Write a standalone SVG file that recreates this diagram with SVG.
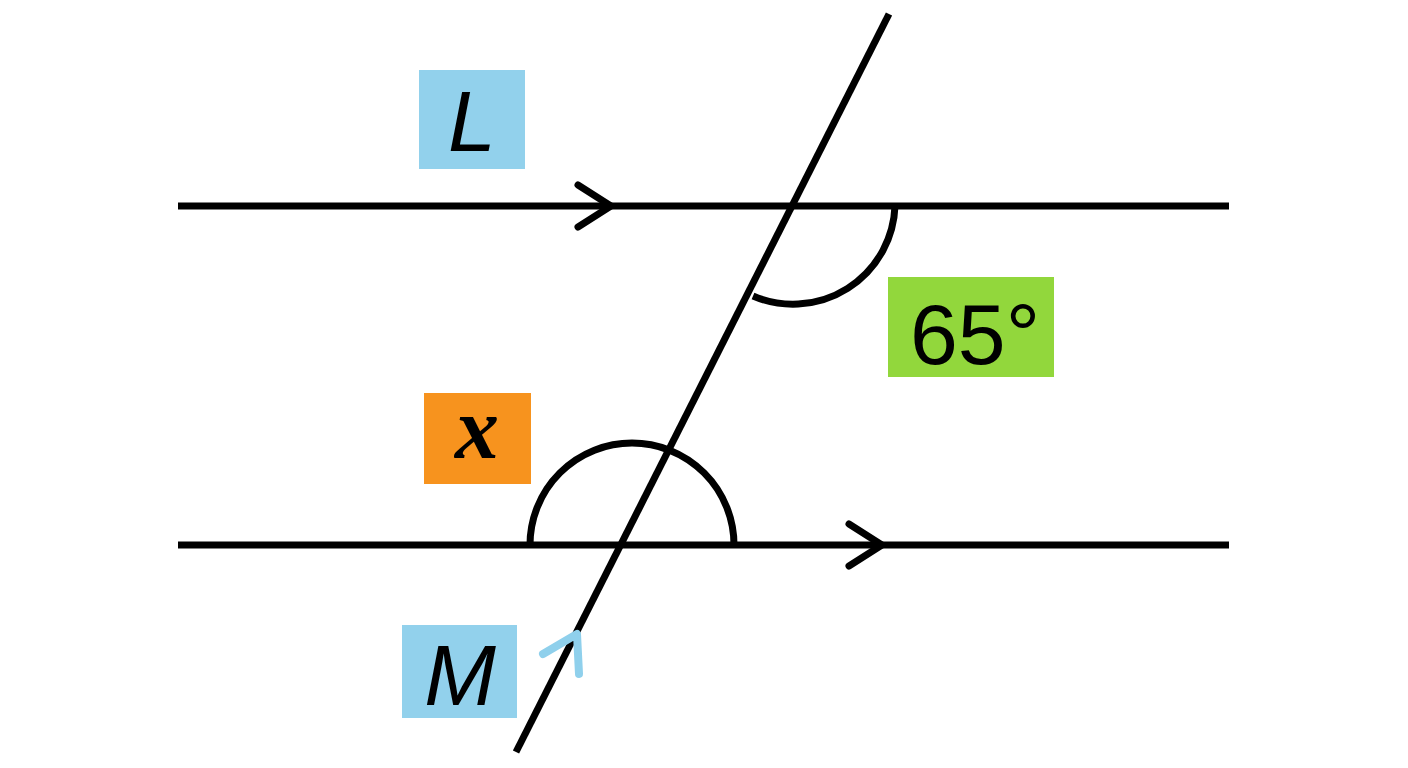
<svg xmlns="http://www.w3.org/2000/svg" width="1408" height="768" viewBox="0 0 1408 768">
<style>
.ln{stroke:#000;stroke-width:7;fill:none;stroke-linecap:butt}
.chev{stroke:#000;stroke-width:7;fill:none;stroke-linecap:round;stroke-linejoin:miter}
.lbl{font-family:"Liberation Sans",Arial,sans-serif;fill:#000}
</style>
<rect width="1408" height="768" fill="#fff"/>
<g id="connectors">
<line class="ln" x1="178" y1="206" x2="1229" y2="206"/>
<line class="ln" x1="178" y1="545" x2="1229" y2="545"/>
<line class="ln" x1="889" y1="14" x2="516" y2="752"/>
<polyline class="chev" points="578,185 611,206 578,227"/>
<polyline class="chev" points="849,524 882,545 849,566"/>
<path class="ln" d="M895,206 A102,102 0 0 1 753,296"/>
<path class="ln" d="M530,545 A102,102 0 0 1 734,545"/>
<polyline points="543,654 577,634 579,674" fill="none" stroke="#8fd0ec" stroke-width="8" stroke-linecap="round" stroke-linejoin="round"/>
</g>
<g id="label-L">
<rect x="419" y="70" width="106" height="99" fill="#92d1ec"/>
<text class="lbl" x="472" y="151" font-size="86" font-style="italic" text-anchor="middle">L</text>
</g>
<g id="label-65">
<rect x="888" y="277" width="166" height="100" fill="#92d73c"/>
<text class="lbl" x="975" y="364" font-size="86" text-anchor="middle">65°</text>
</g>
<g id="label-x">
<rect x="424" y="393" width="107" height="91" fill="#f7931e"/>
<text x="477" y="458" font-family="'Liberation Serif','Times New Roman',serif" font-size="88" font-style="italic" font-weight="bold" text-anchor="middle" fill="#000">x</text>
</g>
<g id="label-M">
<rect x="402" y="625" width="115" height="93" fill="#92d1ec"/>
<text class="lbl" x="460" y="705" font-size="86" font-style="italic" text-anchor="middle">M</text>
</g>
</svg>
